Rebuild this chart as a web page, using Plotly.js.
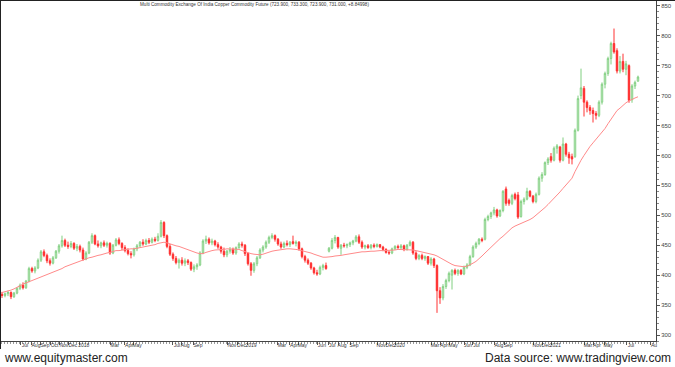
<!DOCTYPE html>
<html><head><meta charset="utf-8">
<script src="https://cdn.plot.ly/plotly-3.0.1.min.js"></script>
<style>html,body{margin:0;padding:0;background:#fff;}#chart{width:675px;height:367px;}</style>
</head><body><div id="chart"></div>
<script>
// Weekly OHLC, MCX Copper, one candle per week
const openP = [368,366,369,371,364,370,378,383,379,390,
 411,407,412,425,439,433,424,420,429,440,
 449,458,450,448,453,445,448,442,427,437,
 455,466,452,449,454,450,453,437,450,459,
 453,446,441,436,434,444,449,455,452,458,
 455,460,458,465,488,466,448,435,428,421,
 425,420,424,421,410,414,417,437,457,460,
 454,457,451,447,440,434,440,443,437,446,
 452,450,436,419,408,419,429,442,447,455,
 463,466,460,452,447,453,451,456,453,455,
 444,431,425,420,412,404,402,413,416,440,
 445,458,463,445,450,449,451,454,457,464,
 455,447,449,446,450,448,451,447,443,438,
 437,444,448,446,449,443,450,455,437,428,
 433,428,431,420,427,416,374,362,381,391,
 400,408,403,408,402,413,417,431,447,453,
 460,460,493,498,504,509,499,508,544,525,
 520,535,534,498,523,527,540,532,523,535,
 562,568,588,598,592,612,614,592,619,602,
 598,598,642,700,712,689,680,675,670,667,
 689,719,737,762,787,775,741,757,744,750,
 693,716,723.9];
const highP = [372,371,374,373,372,380,386,388,392,414,
 414,415,428,442,443,436,428,432,442,452,
 466,461,456,457,455,452,451,446,440,457,
 470,468,458,456,458,456,455,452,462,463,
 455,450,445,440,446,452,457,460,461,462,
 463,464,470,492,490,468,452,438,432,428,
 430,428,427,423,418,420,440,460,466,463,
 461,459,455,449,446,442,447,446,448,455,
 456,452,438,422,422,432,445,450,458,466,
 470,468,462,456,456,458,457,466,458,457,
 446,434,428,422,414,409,416,419,421,447,
 462,467,464,452,454,453,456,459,467,468,
 458,451,452,452,453,453,452,449,445,441,
 446,450,451,452,451,452,458,457,440,435,
 436,433,432,430,429,418,380,385,394,406,
 410,411,410,410,416,420,434,450,456,462,
 463,496,501,506,514,511,510,542,548,528,
 536,538,539,526,530,546,542,534,538,565,
 572,590,597,604,615,619,616,630,621,606,
 603,645,700,745,716,692,684,680,674,692,
 722,740,765,790,812,779,766,770,758,752,
 719,725,733.3];
const lowP = [362,363,365,360,362,368,375,376,377,388,
 404,403,410,422,430,420,416,418,427,436,
 446,447,444,445,442,440,438,424,425,435,
 452,450,446,445,447,446,434,435,448,450,
 442,438,433,428,431,440,446,449,450,452,
 453,455,456,463,462,445,432,424,418,411,
 416,415,417,407,405,409,415,435,452,451,
 450,448,444,436,430,430,436,434,434,444,
 446,432,416,399,404,415,427,438,444,452,
 460,456,449,444,445,448,447,451,448,441,
 428,421,417,409,401,399,400,408,409,438,
 443,453,444,434,446,445,447,450,455,452,
 444,443,444,443,445,446,445,440,436,434,
 435,442,444,443,440,441,448,434,425,425,
 425,424,417,416,412,337,352,358,377,388,
 376,400,399,400,400,410,415,429,444,450,
 455,458,490,494,500,496,497,505,516,516,
 517,525,494,496,518,525,530,520,520,533,
 556,566,584,588,590,603,588,590,598,586,
 585,596,640,694,665,672,668,655,660,664,
 685,712,733,752,770,737,737,739,734,688,
 688,711,723.9];
const closeP = [366,369,371,364,370,378,383,379,390,411,
 407,412,425,439,433,424,420,429,440,449,
 458,450,448,453,445,448,442,427,437,455,
 466,452,449,454,450,453,437,450,459,453,
 446,441,436,434,444,449,455,452,458,455,
 460,458,465,488,466,448,435,428,421,425,
 420,424,421,410,414,417,437,457,460,454,
 457,451,447,440,434,440,443,437,446,452,
 450,436,419,408,419,429,442,447,455,463,
 466,460,452,447,453,451,455,453,455,444,
 431,425,420,412,404,402,413,416,411,445,
 458,463,447,450,449,451,454,457,464,455,
 447,449,446,450,448,451,447,443,438,437,
 444,448,446,449,443,450,455,437,428,433,
 428,431,420,427,416,374,362,381,391,403,
 408,403,408,402,413,417,431,447,453,460,
 458,493,498,504,509,499,508,540,520,520,
 533,528,497,523,527,540,532,523,535,562,
 568,588,594,592,612,616,592,619,602,596,
 594,642,695,713,689,680,675,670,667,689,
 719,737,762,787,773,741,757,744,753,692,
 716,722,731];
// moving average line
const maP = [371,372,373,375,377,380,382,385,387,389,
 390,392,394,397,399,401,403,405,407,409,
 411,414,416,418,420,422,424,425,427,429,
 430,432,433,434,436,437,438,440,441,441,
 442,443,443,444,444,445,446,446,447,448,
 449,451,453,454,455,454,452,451,449,448,
 446,445,443,441,439,437,436,436,438,440,
 441,442,442,443,443,444,444,444,444,443,
 441,439,437,436,435,434,434,435,437,438,
 440,441,442,443,443,444,444,444,443,442,
 441,440,439,437,435,433,431,430,430,430,
 431,432,432,433,434,435,436,437,438,438,
 439,439,440,440,440,441,441,441,441,442,
 442,442,443,443,443,443,443,442,441,440,
 439,438,437,436,434,432,429,426,423,420,
 418,416,415,414,414,415,417,420,423,427,
 432,437,442,447,451,456,461,465,470,474,
 479,482,484,486,488,491,493,496,500,505,
 509,513,518,523,528,533,539,545,551,556,
 562,573,584,592,600,608,615,621,627,633,
 639,645,653,660,668,675,679,684,688,691,
 694,696,698];

// time-axis labels (bar position where each label starts)
const tickText = ['Jul','Aug','Sep','Oct','Nov','Dec','2018','Mar','Apr','May','Jul','Aug','Sep','Nov','Dec','2019',
 'Mar','Apr','May','Jun','Jul','Aug','Sep','Nov','Dec','2020','Mar','Apr','May','Jun','Jul','Aug','Sep','Nov','Dec','2021',
 'Mar','Apr','May','Jul','Au'];
const tickPos = [6.3,10,13,16.2,19.3,22.3,25.9,36.3,41,43.7,57,59.7,64,75.3,78.5,81.7,
 92,96,98.8,105.3,108.7,112,116,125,128,131.1,143,146,149,154,156.8,164.3,167.4,177,180,183.1,
 194,197,200.7,208.3,216];

const titleText = 'Multi Commodity Exchange Of India Copper Commodity Future (723.900, 733.300, 723.900, 731.000, +8.84998)';
const FONT = '"Liberation Sans", Arial, sans-serif';

const bars = closeP.map((_, i) => i);

const traces = [
 {type:'candlestick', x:bars, open:openP, high:highP, low:lowP, close:closeP,
  increasing:{line:{color:'#80cf80', width:1}, fillcolor:'#ffffff'},
  decreasing:{line:{color:'#ff3333', width:1}, fillcolor:'#ff0000'},
  whiskerwidth:0, hoverinfo:'skip', showlegend:false},
 {type:'scatter', mode:'lines', x:bars, y:maP, line:{color:'#ff8a8a', width:1},
  hoverinfo:'skip', showlegend:false}
];

const W = 675, H = 367, ML = 1, MR = 19, MT = 1, MB = 26;
const pw = W - ML - MR, ph = H - MT - MB;
const px = x => (x - ML) / pw;
const py = y => (H - MB - y) / ph;

const layout = {
 width:W, height:H,
 margin:{l:ML, r:MR, t:MT, b:MB, pad:0},
 paper_bgcolor:'#ffffff', plot_bgcolor:'#ffffff',
 showlegend:false,
 font:{family:FONT, color:'#333', size:6},
 xaxis:{range:[-0.33, 218], tickmode:'array', tickvals:tickPos, ticktext:tickText, tickangle:0,
  ticks:'outside', ticklen:3, tickcolor:'#555', tickwidth:1,
  tickfont:{family:FONT, size:5, color:'#333'}, ticklabelshift:4, ticklabelstandoff:-4,
  showline:true, linecolor:'#444', linewidth:1, showgrid:false, zeroline:false,
  rangeslider:{visible:false}, fixedrange:true,
  minor:{tickmode:'linear', tick0:0, dtick:1, ticks:'outside', ticklen:2, tickcolor:'#999', showgrid:false}},
 yaxis:{side:'right', range:[290, 858], tickmode:'linear', tick0:0, dtick:50,
  ticks:'outside', ticklen:3, tickcolor:'#555', tickwidth:1,
  tickfont:{family:FONT, size:6, color:'#444'},
  showline:true, linecolor:'#444', linewidth:1, showgrid:false, zeroline:false, fixedrange:true,
  minor:{tickmode:'linear', tick0:0, dtick:10, ticks:'outside', ticklen:2, tickcolor:'#888', showgrid:false}},
 annotations:[
  {text:titleText, xref:'paper', yref:'paper', x:px(254), y:py(5), xanchor:'center', yanchor:'middle',
   showarrow:false, font:{family:FONT, size:4.6, color:'#333'}},
  {text:'www.equitymaster.com', xref:'paper', yref:'paper', x:px(2), y:py(358), xanchor:'left', yanchor:'middle',
   showarrow:false, font:{family:FONT, size:12, color:'#222'}},
  {text:'Data source: www.tradingview.com', xref:'paper', yref:'paper', x:px(673), y:py(358), xanchor:'right', yanchor:'middle',
   showarrow:false, font:{family:FONT, size:12, color:'#222'}}
 ],
 shapes:[
  {type:'line', xref:'paper', yref:'paper', x0:px(0), x1:px(675), y0:py(0.5), y1:py(0.5), line:{color:'#222', width:1}},
  {type:'line', xref:'paper', yref:'paper', x0:px(0.5), x1:px(0.5), y0:py(0), y1:py(349), line:{color:'#222', width:1}}
 ]
};

Plotly.newPlot('chart', traces, layout, {staticPlot:true, displayModeBar:false});
</script>
</body></html>
